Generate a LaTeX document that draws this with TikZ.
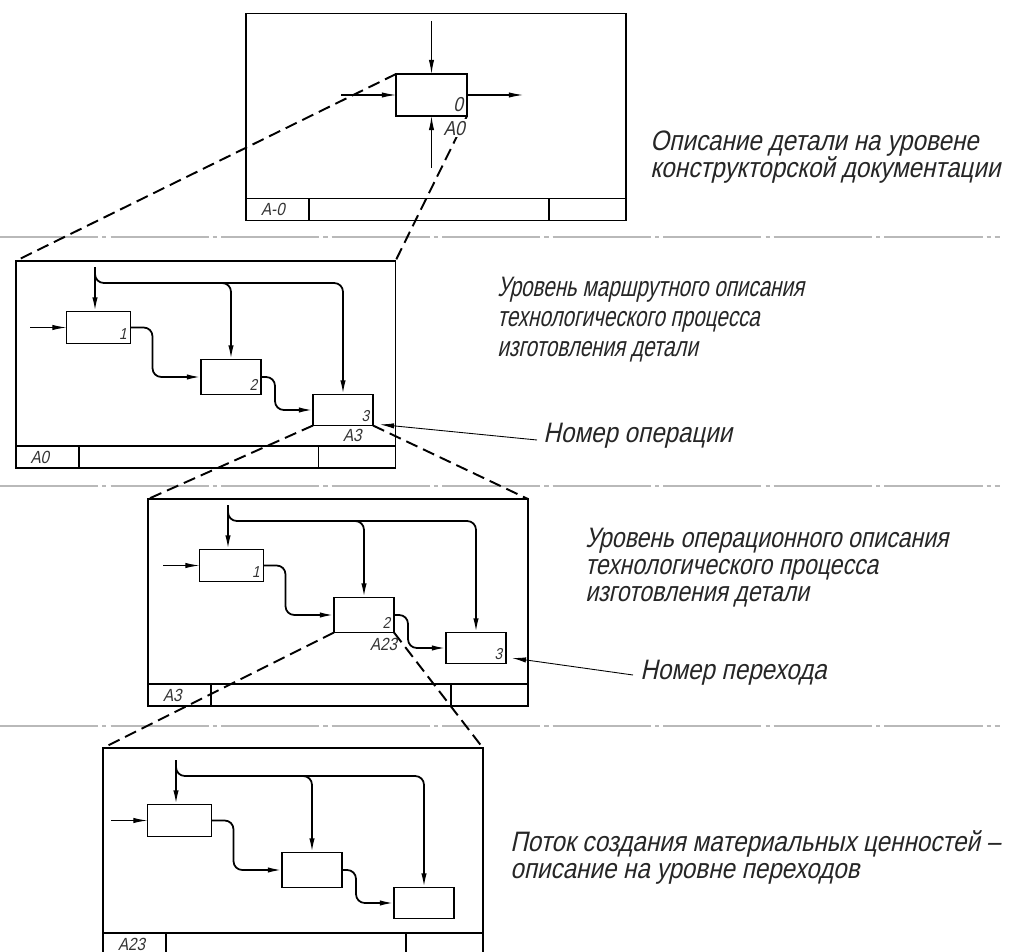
\documentclass[tikz,border=0pt]{standalone}
\usepackage{fontspec}
\newfontfamily\gost[FakeSlant=0.22,FakeStretch=0.86]{Liberation Sans}
\newfontfamily\gostn[FakeSlant=0.22,FakeStretch=0.733]{Liberation Sans}
\newfontfamily\gostm[FakeSlant=0.22,FakeStretch=0.818]{Liberation Sans}
\usetikzlibrary{arrows.meta,calc,positioning}

\tikzset{
  frm/.style={draw,line width=1.1pt,inner sep=0pt,outer sep=0pt,minimum width=7.6cm,minimum height=4.14cm},
  blk/.style={draw,line width=1pt,inner sep=0pt,outer sep=0pt},
  flow/.style={line width=1pt,-{Latex[length=8pt,width=3pt]},rounded corners=5pt},
  inarr/.style={line width=0.6pt,-{Latex[length=8pt,width=3pt]}},
  ptr/.style={line width=0.5pt,-{Latex[length=8pt,width=3pt]}},
  zoomln/.style={line width=1.1pt,dash pattern=on 7pt off 3.5pt},
  axisln/.style={gray!55,line width=0.6pt,dash pattern=on 56pt off 2.3pt on 2.3pt off 2.3pt},
  txt/.style={font=\gost\fontsize{16}{15.3}\selectfont,text=black!85,align=left,inner sep=0pt,anchor=north west},
  num/.style={font=\gost\fontsize{9}{9}\selectfont,text=black!80,inner sep=2pt},
  code/.style={font=\gost\fontsize{10}{10}\selectfont,text=black!80,inner sep=1pt}
}

% three blocks with control bus, input and flows (coordinates in px of the frame)
\newcommand{\flowpanel}{%
  \node[blk,minimum width=1.28cm,minimum height=0.64cm] (b1) at (83.5,66.5) {};
  \node[blk,minimum width=1.2cm,minimum height=0.7cm] (b2) at (216,116) {};
  \node[blk,minimum width=1.2cm,minimum height=0.62cm] (b3) at (328,149) {};
  \coordinate (in) at (15,66.5);
  \coordinate (ctl) at (80,6);
  \coordinate (bus) at (80,22);
  \draw[inarr] (in) -- (b1.west);
  \draw[flow] (ctl) -- (ctl |- b1.north);
  \draw[flow] ($(ctl)+(0,7)$) |- (bus -| b3.north) -- (b3.north);
  \draw[flow] ($(bus -| b2.north)+(-14,0)$) -| (b2.north);
  \draw[flow] (b1.east) -- ++(22,0) |- (b2.west);
  \draw[flow] (b2.east) -- ++(14,0) |- (b3.west);
}

% title strip at the bottom of a frame
\newcommand{\tblock}[2]{%
  \draw[line width=1.1pt] ($(#1.south west)+(0,-22)$) -- ($(#1.south east)+(0,-22)$)
    ($(#1.south west)+(63,0)$) -- ++(0,-22)
    ($(#1.south east)+(-77,0)$) -- ++(0,-22);
  \node[code,anchor=west] (#1-code) at ($(#1.south west)+(13,-11)$) {#2};
}

\begin{document}
\begin{tikzpicture}[x=0.02cm,y=-0.02cm]
  \useasboundingbox (0,0) rectangle (1017,952);
  \clip (0,0) rectangle (1017,952);
  \fill[white] (0,0) rectangle (1017,952);

  % axis lines between levels
  \foreach \yy in {237,486,726}
    \draw[axisln] (0,\yy) -- (1000,\yy);

  % level A-0
  \node[frm] (f1) at (436,117) {};
  \tblock{f1}{A-0}
  \node[blk,minimum width=1.42cm,minimum height=0.84cm] (a0) at (431.5,95) {};
  \coordinate (ctl0) at (431.5,21);
  \coordinate (in0) at (341,95);
  \coordinate (out0) at (523,95);
  \coordinate (mech0) at (431.5,168);
  \draw[inarr] (ctl0) -- (a0.north);
  \draw[inarr] (in0) -- (a0.west);
  \draw[inarr] (a0.east) -- (out0);
  \draw[inarr] (mech0) -- (a0.south);
  \node[num,font=\gost\fontsize{11.5}{11.5}\selectfont,anchor=south east] (a0n) at (a0.south east) {0};

  % level A0
  \node[frm] (f2) at (205.5,364.5) {};
  \tblock{f2}{A0}
  \begin{scope}[shift={(15,261)},name prefix=p2-]
    \flowpanel
  \end{scope}
  \foreach \i in {1,2,3}
    \node[num,anchor=south east] (p2-n\i) at (p2-b\i.south east) {\i};
  \node[code,anchor=north west] (p2-code) at ([shift={(-2,2)}]p2-b3.south) {A3};

  % level A3
  \node[frm] (f3) at (338,602.5) {};
  \tblock{f3}{A3}
  \begin{scope}[shift={(148,499)},name prefix=p3-]
    \flowpanel
  \end{scope}
  \foreach \i in {1,2,3}
    \node[num,anchor=south east] (p3-n\i) at (p3-b\i.south east) {\i};
  \node[code,anchor=north west] (p3-code) at ([shift={(4,4)}]p3-b2.south) {A23};

  % level A23
  \node[frm] (f4) at (293,851.5) {};
  \tblock{f4}{A23}
  \begin{scope}[shift={(96,754)},name prefix=p4-]
    \flowpanel
  \end{scope}

  % zoom lines
  \draw[zoomln] (a0.north west) -- (f2.north west);
  \draw[zoomln] (a0.south east) -- (f2.north east);
  \draw[zoomln] (p2-b3.south west) -- (f3.north west);
  \draw[zoomln] (p2-b3.south east) -- (f3.north east);
  \draw[zoomln] (p3-b2.south west) -- (f4.north west);
  \draw[zoomln] (p3-b2.south east) -- (f4.north east);
  \node[code,fill=white,font=\gost\fontsize{11.5}{11.5}\selectfont,anchor=north east] (a0c) at ([shift={(0,3)}]a0.south east) {A0};

  % texts
  \node[txt] (t1) at (650,131) {Описание детали на уровене\\конструкторской документации};
  \node[txt,font=\gostn\fontsize{16}{17}\selectfont] (t2) at (497,277) {Уровень маршрутного описания\\технологического процесса\\изготовления детали};
  \node[txt,font=\gostm\fontsize{16}{15.4}\selectfont] (t3) at (585,528) {Уровень операционного описания\\технологического процесса\\изготовления детали};
  \node[txt] (t4) at (510,830) {Поток создания материальных ценностей –\\описание на уровне переходов};
  \node[txt,anchor=west] (tOp) at (543,436) {Номер операции};
  \node[txt,anchor=west] (tPer) at (640,673) {Номер перехода};
  \draw[ptr] (tOp.west) ++(-6,4) -- ([shift={(7,-1)}]p2-b3.south east);
  \draw[ptr] (tPer.west) ++(-7,2) -- ([shift={(6,10)}]p3-b3.east);
\end{tikzpicture}
\end{document}
